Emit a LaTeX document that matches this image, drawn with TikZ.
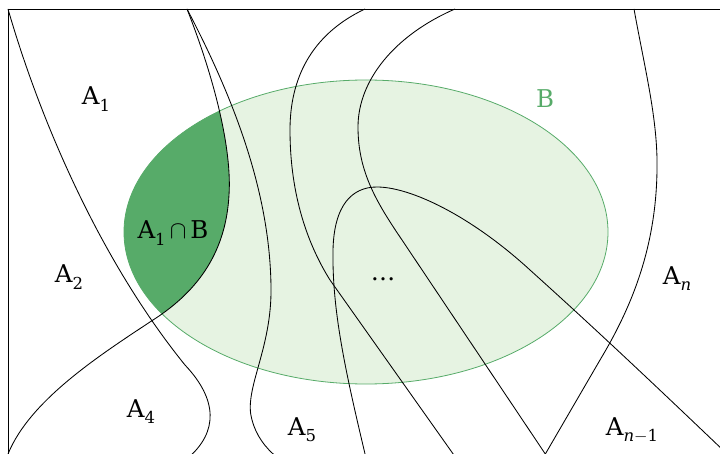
\documentclass[tikz,border=0pt]{standalone}
\usepackage{fontspec}
\setmainfont{DejaVu Serif}
\newcommand\Sub[1]{\raisebox{-0.28em}{\fontsize{16.5}{19}\selectfont #1}}
\begin{document}
\begin{tikzpicture}[x=1pt,y=-1pt,
  curve/.style={draw=black,line width=0.85pt},
  lbl/.style={inner sep=0pt,anchor=base,font=\fontsize{24.5}{28}\selectfont},
  bclr/.style={text=greenB}]
\definecolor{greenB}{RGB}{87,171,105}
\definecolor{lightB}{RGB}{230,243,226}
\useasboundingbox (0,0) rectangle (720,454);
\clip (0,0) rectangle (720,454);
\def\curveTwo{(187,9) .. controls (215,80) and (232,150) .. (229,195) .. controls (226,250) and (200,290) .. (153,320) .. controls (100,355) and (30,400) .. (8,454)}
% ellipse B
\fill[lightB] (366,232) ellipse [x radius=242, y radius=152];
\begin{scope}
  \clip \curveTwo -- (-10,470) -- (-10,-10) -- cycle;
  \fill[greenB] (366,232) ellipse [x radius=242, y radius=152];
\end{scope}
\draw[greenB,line width=0.8pt] (366,232) ellipse [x radius=242, y radius=152];
% frame
\draw[curve] (8,460) -- (8,9) -- (730,9);
% curves
\draw[curve] (8,9) .. controls (40,120) and (100,260) .. (185,365) .. controls (218,400) and (218,432) .. (188,458);
\draw[curve] \curveTwo;
\draw[curve] (187,9) .. controls (240,110) and (270,200) .. (271,287) .. controls (272,350) and (243,390) .. (252,420) .. controls (256,435) and (265,448) .. (278,458);
\draw[curve] (365,9) .. controls (310,35) and (290,80) .. (290,130) .. controls (290,190) and (305,240) .. (330,280) -- (456,458);
\draw[curve] (455,9) .. controls (395,35) and (358,80) .. (358,127) .. controls (358,170) and (375,200) .. (400,237) -- (548,458);
\draw[curve] (366,458) .. controls (345,370) and (332,310) .. (333,250) .. controls (334,205) and (352,187) .. (377,187) .. controls (410,187) and (470,215) .. (530,270) .. controls (600,333) and (660,390) .. (725,452);
\draw[curve] (634,9) .. controls (645,70) and (658,120) .. (657,170) .. controls (656,250) and (630,310) .. (600,360) -- (543,458);
% labels
\node[lbl] (lA1) at (96,105) {A\Sub{1}};
\node[lbl] (lA2) at (69,283) {A\Sub{2}};
\node[lbl] (lA4) at (141,417) {A\Sub{4}};
\node[lbl] (lA5) at (302,435) {A\Sub{5}};
\node[lbl] (lAn) at (677,284) {A\Sub{\textit{n}}};
\node[lbl] (lAn1) at (632,435) {A\Sub{\textit{n}$-$1}};
\node[lbl] (lA1B) at (173,239) {A\Sub{1}\,$\cap$\,B};
\node[lbl,bclr] (lB) at (545,108) {B};
\node[lbl] (ldots) at (383,280) {…};
\end{tikzpicture}
\end{document}
